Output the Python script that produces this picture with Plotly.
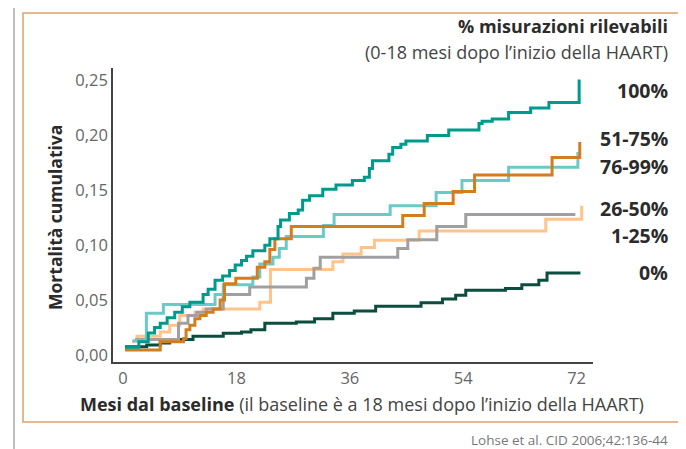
import plotly.graph_objects as go

# ---- data (months from baseline, cumulative mortality) ----
months_100 = [0.3, 2.5, 4.0, 5.0, 5.9, 7.0, 8.2, 9.4, 10.6, 12.7, 13.5, 14.6, 15.8, 16.9, 17.8,
              18.8, 19.6, 20.6, 22.5, 23.3, 24.6, 25.0, 26.4, 27.8, 28.5, 29.6, 31.7, 33.8, 36.4,
              38.3, 39.1, 39.6, 42.2, 42.8, 44.1, 44.9, 48.3, 51.7, 56.5, 57.0, 58.6, 61.2, 64.7,
              67.6, 72.4]
vals_100 = [0.007, 0.012, 0.020, 0.025, 0.029, 0.034, 0.039, 0.044, 0.048, 0.055, 0.060, 0.068,
            0.072, 0.077, 0.082, 0.086, 0.090, 0.095, 0.100, 0.106, 0.117, 0.123, 0.129, 0.132,
            0.141, 0.145, 0.151, 0.155, 0.159, 0.162, 0.170, 0.177, 0.183, 0.189, 0.192, 0.195,
            0.200, 0.205, 0.211, 0.213, 0.215, 0.221, 0.225, 0.230, 0.251]

months_5175 = [0.3, 5.9, 9.6, 10.0, 10.6, 11.4, 12.2, 13.2, 14.3, 15.4, 16.1, 17.9, 21.3, 22.5,
               23.3, 24.1, 26.7, 44.4, 47.8, 52.4, 55.8, 68.1, 72.5]
vals_5175 = [0.0045, 0.012, 0.015, 0.023, 0.027, 0.033, 0.036, 0.039, 0.042, 0.050, 0.065, 0.070,
             0.080, 0.085, 0.096, 0.106, 0.117, 0.127, 0.138, 0.149, 0.164, 0.180, 0.194]

months_7699 = [1.5, 3.7, 6.4, 14.6, 15.9, 20.6, 21.7, 23.8, 24.8, 25.9, 31.8, 33.5, 42.4, 49.7,
               53.8, 61.2, 72.2]
vals_7699 = [0.013, 0.038, 0.046, 0.055, 0.064, 0.071, 0.083, 0.089, 0.097, 0.108, 0.118, 0.128,
             0.136, 0.148, 0.159, 0.171, 0.185]

months_2650 = [1.9, 8.8, 10.3, 11.7, 13.2, 15.9, 20.1, 29.1, 30.3, 31.3, 43.6, 45.2, 49.8, 54.4, 71.8]
vals_2650 = [0.014, 0.029, 0.036, 0.039, 0.042, 0.055, 0.062, 0.070, 0.079, 0.089, 0.097, 0.105,
             0.117, 0.128, 0.128]

months_125 = [1.4, 2.2, 5.9, 7.4, 9.0, 11.4, 12.7, 21.7, 23.4, 33.3, 34.9, 37.8, 39.9, 47.0, 67.1, 72.8]
vals_125 = [0.012, 0.017, 0.021, 0.027, 0.036, 0.039, 0.042, 0.048, 0.078, 0.085, 0.092, 0.098,
            0.1045, 0.113, 0.1236, 0.136]

months_0 = [0.3, 3.75, 5.9, 7.4, 9.0, 11.1, 15.9, 18.8, 20.3, 22.5, 27.5, 30.4, 33.3, 36.7, 40.1,
            47.3, 50.7, 52.8, 54.4, 60.7, 63.3, 66.0, 67.3, 72.6]
vals_0 = [0.0075, 0.009, 0.011, 0.013, 0.014, 0.017, 0.0197, 0.021, 0.023, 0.0288, 0.030, 0.033,
          0.038, 0.040, 0.0445, 0.0475, 0.051, 0.0545, 0.059, 0.0606, 0.064, 0.068, 0.0748, 0.0748]

series_names = ["0%", "1-25%", "26-50%", "76-99%", "51-75%", "100%"]
x_ticks = [0, 18, 36, 54, 72]
y_ticks = [0.00, 0.05, 0.10, 0.15, 0.20, 0.25]

FONT = "Open Sans"
colors = {"0%": "#0b4d3f", "1-25%": "#ffc48c", "26-50%": "#a0a0a2",
          "76-99%": "#6ccac6", "51-75%": "#d27d1e", "100%": "#009a8c"}
series = {"0%": (months_0, vals_0), "1-25%": (months_125, vals_125),
          "26-50%": (months_2650, vals_2650), "76-99%": (months_7699, vals_7699),
          "51-75%": (months_5175, vals_5175), "100%": (months_100, vals_100)}

fig = go.Figure()
for name in series_names:
    xs, ys = series[name]
    fig.add_trace(go.Scatter(x=xs, y=ys, mode="lines", name=name,
                             line=dict(shape="hv", width=3, color=colors[name])))

# page has an 8px body margin: figure origin sits at page (8, 8)
OFF = 8
W, H = 686 - OFF, 449 - OFF
# plot area in page pixels: x 113..593, y 68..362
L, R, T, B = 113 - OFF, 593 - OFF, 68 - OFF, 362 - OFF
def px(x):
    return (x - OFF - L) / (R - L)
def py(y):
    return (B - (y - OFF)) / (B - T)

label_pos = {"100%": 90, "51-75%": 138, "76-99%": 166, "26-50%": 208, "1-25%": 235, "0%": 272}
ann = []
for name in series_names:
    ann.append(dict(text="<b>" + name + "</b>", x=px(670), y=py(label_pos[name]), xref="paper",
                    yref="paper", xanchor="right", yanchor="middle", showarrow=False,
                    font=dict(family=FONT, size=19.5, color="#2b2b2b")))
ann += [
    dict(text="<b>% misurazioni rilevabili</b>", x=px(670), y=py(26), xref="paper", yref="paper",
         xanchor="right", yanchor="middle", showarrow=False,
         font=dict(family=FONT, size=18, color="#2b2b2b")),
    dict(text="(0-18 mesi dopo l’inizio della HAART)", x=px(670), y=py(52), xref="paper",
         yref="paper", xanchor="right", yanchor="middle", showarrow=False,
         font=dict(family=FONT, size=18, color="#444")),
    dict(text="<b>Mortalità cumulativa</b>", x=px(55), y=py(218), xref="paper", yref="paper",
         xanchor="center", yanchor="middle", textangle=-90, showarrow=False,
         font=dict(family=FONT, size=17.5, color="#2b2b2b")),
    dict(text="<b>Mesi dal baseline</b> <span style='color:#444'>(il baseline è a 18 mesi dopo l’inizio della HAART)</span>",
         x=px(362), y=py(404), xref="paper", yref="paper", xanchor="center", yanchor="middle",
         showarrow=False, font=dict(family=FONT, size=18, color="#2b2b2b")),
    dict(text="Lohse et al. CID 2006;42:136-44", x=px(670), y=py(440), xref="paper", yref="paper",
         xanchor="right", yanchor="middle", showarrow=False,
         font=dict(family=FONT, size=13.5, color="#777")),
]

shapes = [
    dict(type="line", xref="paper", yref="paper", x0=px(14), x1=px(14), y0=py(0), y1=py(449),
         line=dict(color="#a8a8a8", width=1.5)),
    dict(type="line", xref="paper", yref="paper", x0=px(682), x1=px(682), y0=py(0), y1=py(449),
         line=dict(color="#a8a8a8", width=1.5)),
    dict(type="rect", xref="paper", yref="paper", x0=px(23), x1=px(700), y0=py(13), y1=py(422),
         line=dict(color="#e0a06a", width=1.5)),
]

fig.update_layout(
    width=W, height=H, margin=dict(l=L, r=W - R, t=T, b=H - B),
    paper_bgcolor="white", plot_bgcolor="white", showlegend=False,
    separators=",.", font=dict(family=FONT, color="#666"),
    annotations=ann, shapes=shapes,
    xaxis=dict(range=[-1.6, 74.6], tickvals=x_ticks, showgrid=False, zeroline=False,
               showline=True, linecolor="#444", linewidth=1.5, ticks="",
               tickfont=dict(family=FONT, size=16.5, color="#666")),
    yaxis=dict(range=[-0.0064, 0.2615], tickvals=y_ticks, tickformat=".2f", showgrid=False,
               zeroline=False, showline=True, linecolor="#444", linewidth=1.5, ticks="",
               tickfont=dict(family=FONT, size=16.5, color="#666")),
)

fig.write_html("out.html")
